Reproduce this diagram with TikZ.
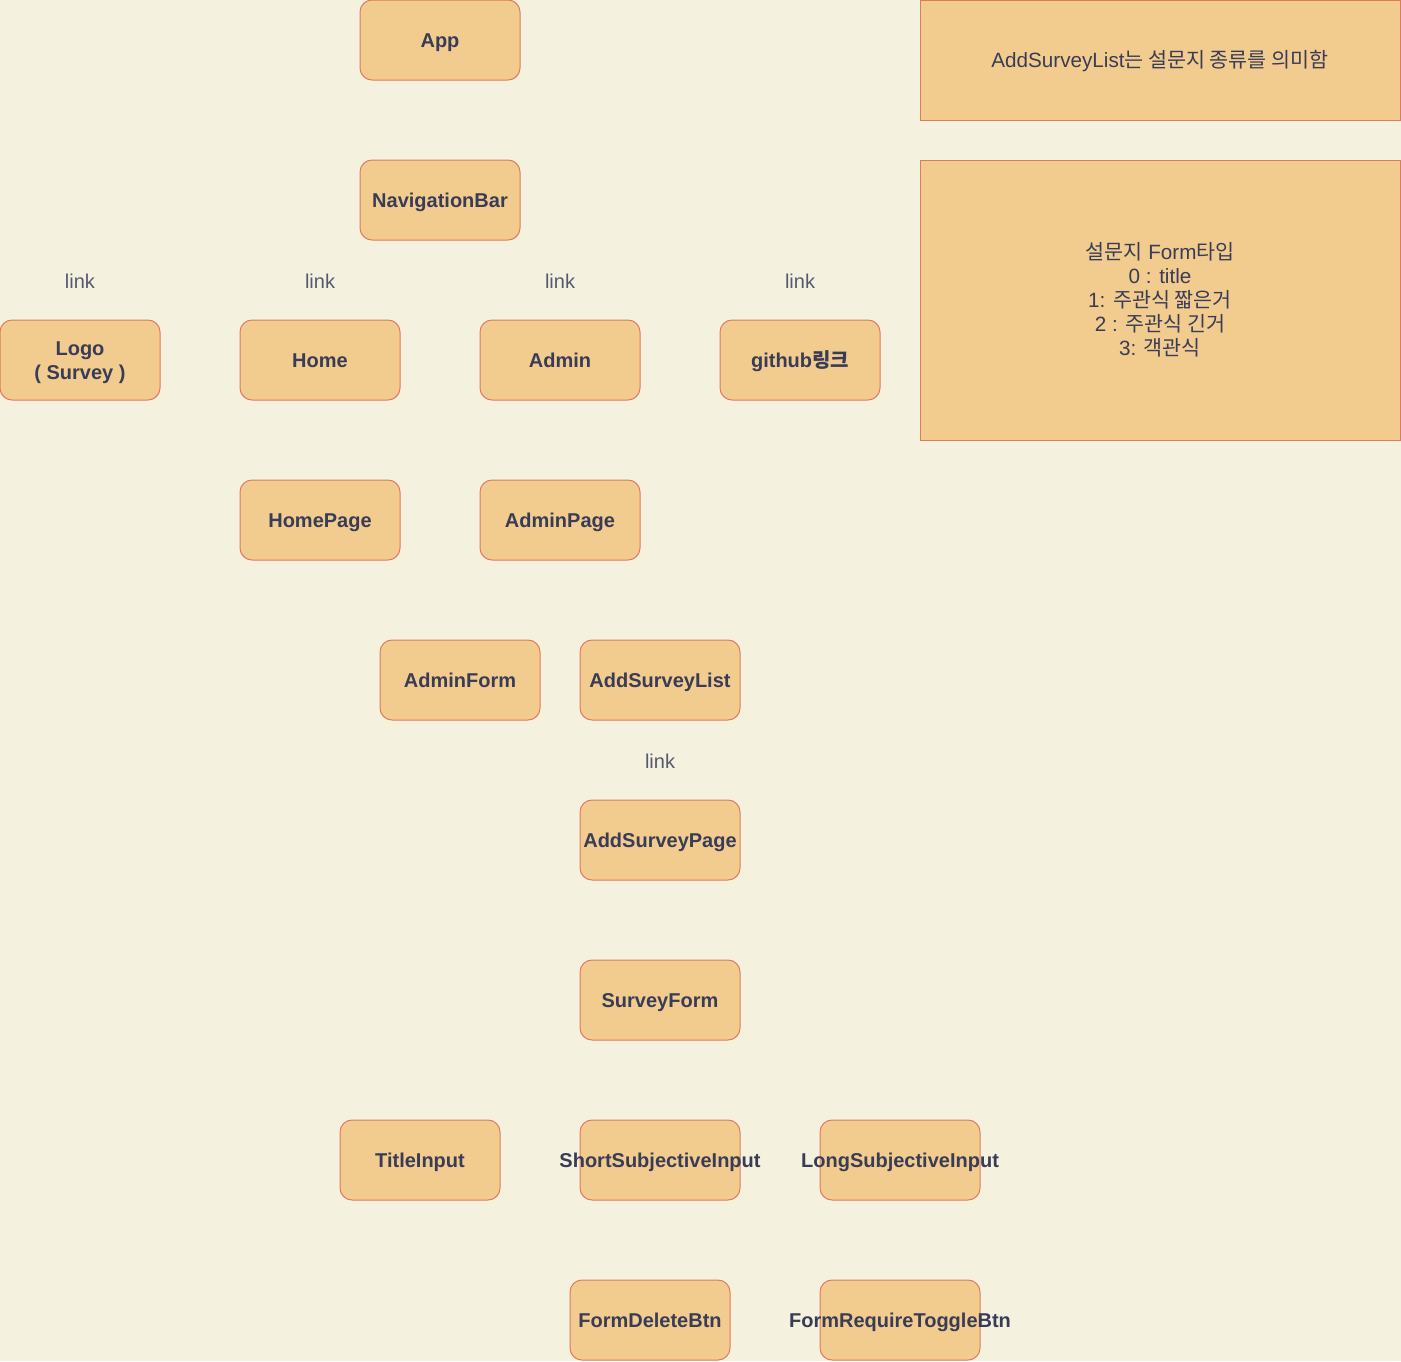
\documentclass[tikz,border=0pt]{standalone}
\usepackage{fontspec}
\setmainfont{Liberation Sans}
\newfontfamily\kr{Noto Sans CJK KR}
\begin{document}
\begin{tikzpicture}[x=0.75pt,y=-0.75pt,
        box/.style={draw=edge,fill=boxfill,line width=0.75pt,rounded corners=9pt,
            minimum width=120pt,minimum height=60pt,inner sep=0pt,
            label={[boxtext]center:#1}},
        boxtext/.style={text=ink,font=\bfseries\fontsize{15}{18}\selectfont,align=center,
            text height=11pt,text depth=3pt,yshift=-1.25pt},
        note/.style={draw=edge,fill=boxfill,line width=0.75pt,inner sep=0pt,
            text=ink,font=\fontsize{15.5}{18}\selectfont,align=center},
        linktxt/.style={text=ink!85,font=\fontsize{15}{18}\selectfont}]
        %colores
        \definecolor{bg}{HTML}{F4F1DE}
        \definecolor{boxfill}{HTML}{F2CC8F}
        \definecolor{edge}{HTML}{E07A5F}
        \definecolor{ink}{HTML}{393C56}

        % fondo
        \useasboundingbox (0,0) rectangle (1401,1361);
        \fill[bg] (0,0) rectangle (1401,1361);

        % arbol de componentes
        \node[box=App] (app) at (440,40) {};
        \node[box=NavigationBar] (navbar) at (440,200) {};

        \node[box={}, label={[boxtext,yshift=-9pt]center:Logo\\( Survey )}] (logo) at (80,360) {};
        \node[box=Home] (home) at (320,360) {};
        \node[box=Admin] (admin) at (560,360) {};
        \node[box={github{\kr 링크}}] (github) at (800,360) {};
        \foreach \x/\name in {80/logo, 320/home, 560/admin, 800/github}
            \node[linktxt] (link-\name) at (\x,281) {link};

        \node[box=HomePage] (homepage) at (320,520) {};
        \node[box=AdminPage] (adminpage) at (560,520) {};

        \node[box=AdminForm] (adminform) at (460,680) {};
        \node[box=AddSurveyList] (addlist) at (660,680) {};
        \node[linktxt] (link-addlist) at (660,761) {link};
        \node[box=AddSurveyPage] (addpage) at (660,840) {};
        \node[box=SurveyForm] (surveyform) at (660,1000) {};

        \node[box=TitleInput] (titleinput) at (420,1160) {};
        \node[box=ShortSubjectiveInput] (shortinput) at (660,1160) {};
        \node[box=LongSubjectiveInput] (longinput) at (900,1160) {};
        \node[box=FormDeleteBtn] (deletebtn) at (650,1320) {};
        \node[box=FormRequireToggleBtn] (togglebtn) at (900,1320) {};

        % notas
        \node[note,minimum width=360pt,minimum height=90pt] (note-list) at (1160,60) {};
        \node[text=ink,font=\fontsize{15.5}{18}\selectfont] (note-list-text) at (1160,61.5)
            {AddSurveyList{\kr 는 설문지 종류를 의미함}};
        \node[note,minimum width=360pt,minimum height=210pt] (note-form) at (1160,300)
            {{\kr 설문지} Form{\kr 타입}\\0 : title\\1: {\kr 주관식 짧은거}\\2 : {\kr 주관식 긴거}\\3: {\kr 객관식}};
\end{tikzpicture}
\end{document}
